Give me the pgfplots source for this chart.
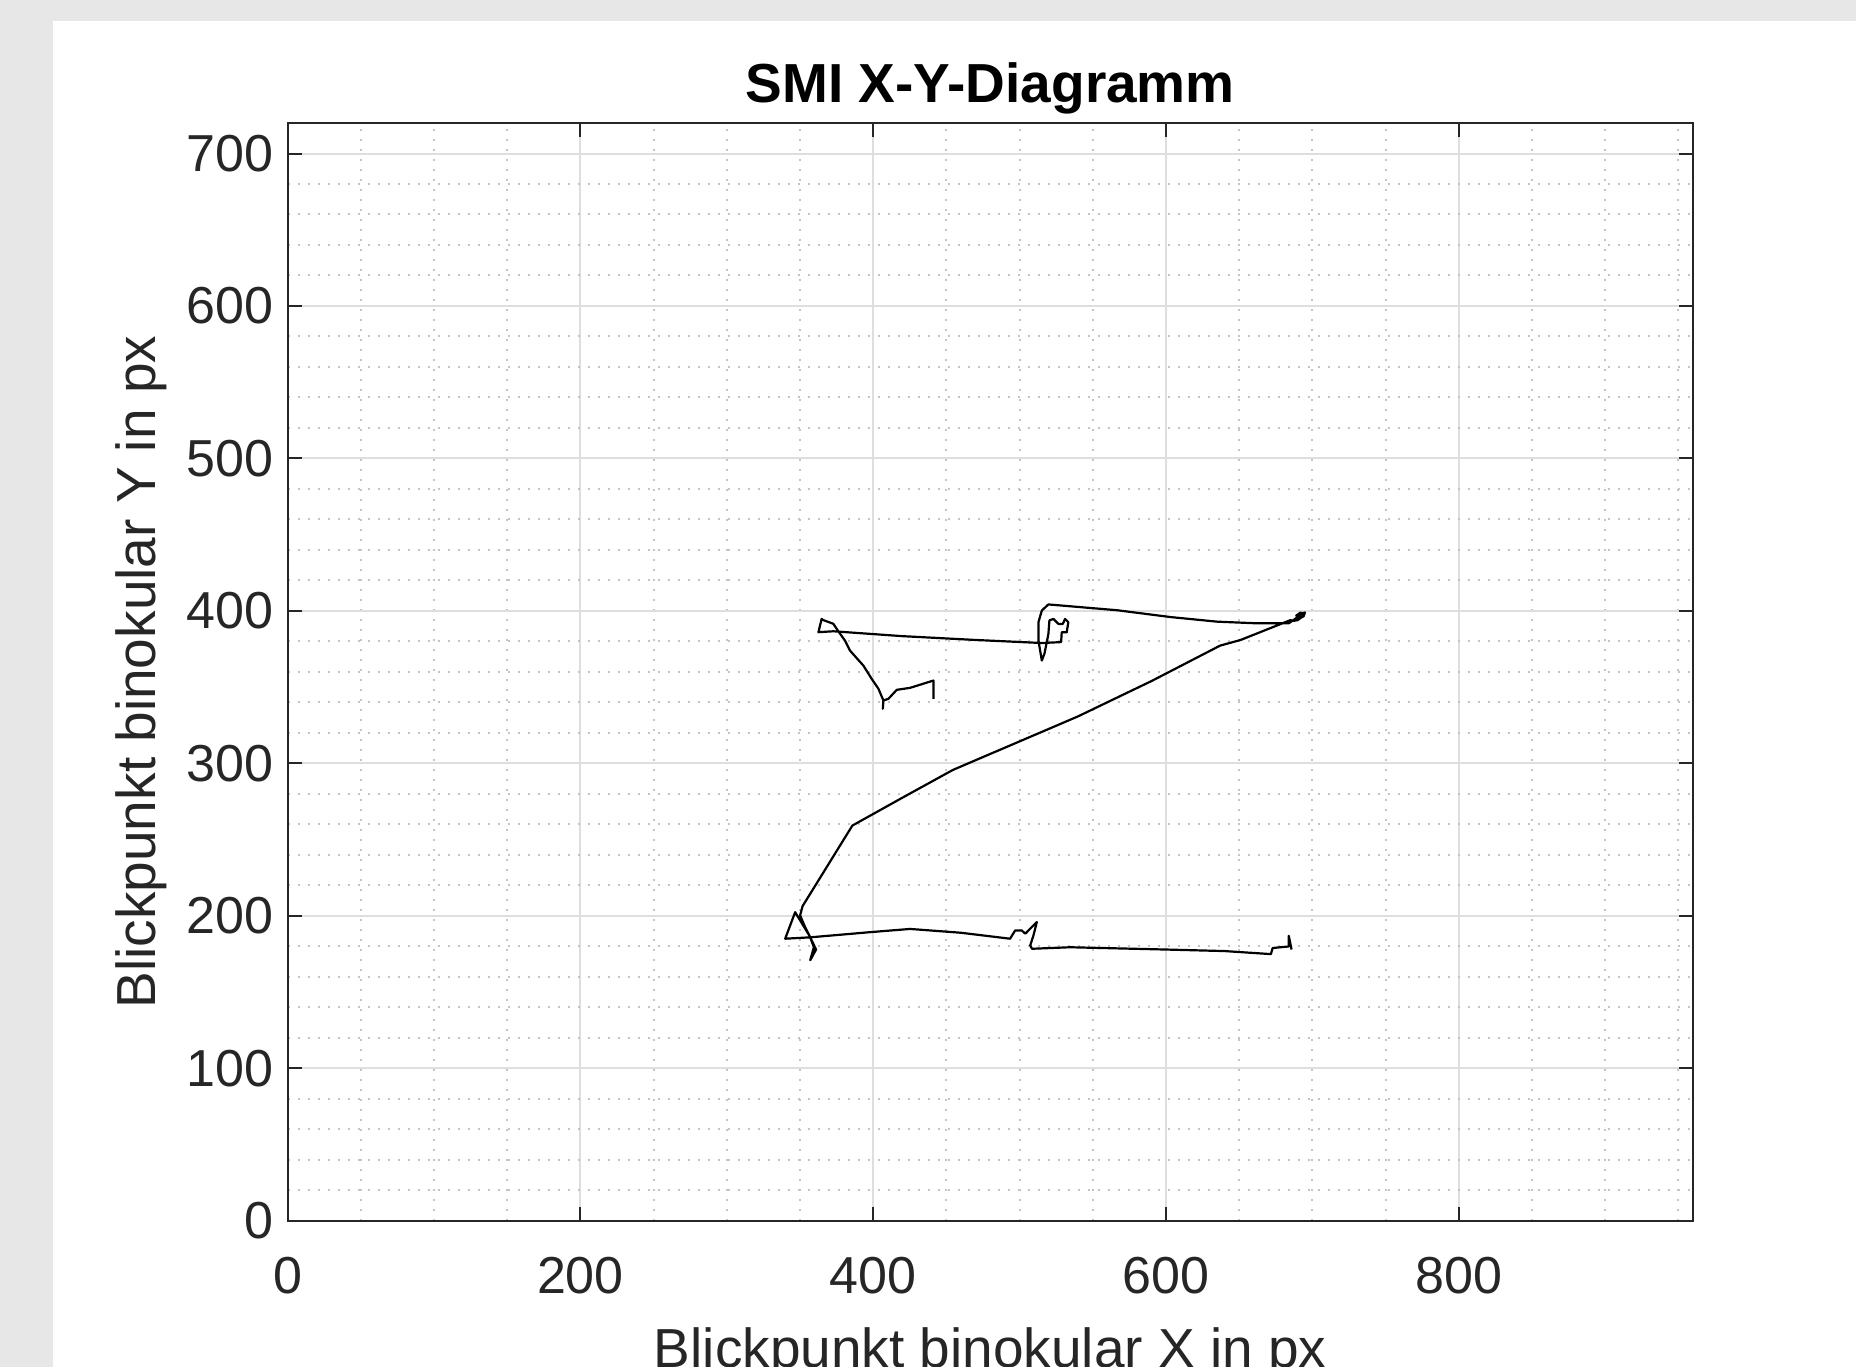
\documentclass[border=0pt]{standalone}
\usepackage{fontspec}
\setmainfont{Liberation Sans}
\usepackage{pgfplots}
\pgfplotsset{compat=1.18}
\definecolor{winGrey}{RGB}{231,231,231}
\definecolor{axInk}{RGB}{38,38,38}
\definecolor{gridMaj}{RGB}{222,222,222}
\definecolor{gridMin}{RGB}{196,196,196}

\pgfplotstableread{
x y
441.2 342.4
441.2 354.4
425.2 349.6
416.1 348.3
410.4 342.4
407.0 341.3
406.6 335.9
407.0 341.3
403.6 349.0
399.0 355.5
393.3 364.2
384.2 374.0
380.8 380.5
376.2 386.7
372.8 391.6
365.5 394.2
364.8 394.8
362.6 386.1
372.8 386.7
420.0 383.5
470.0 381.0
515.2 379.0
528.4 379.6
528.8 386.0
532.2 386.0
533.3 392.6
531.1 394.8
529.5 391.5
526.6 391.5
523.1 394.8
520.4 393.8
519.7 385.0
517.0 372.0
515.2 367.5
512.9 380.6
512.9 392.6
515.2 400.3
519.7 404.3
566.6 400.5
603.3 396.0
635.0 393.0
660.0 392.0
684.0 392.0
690.0 396.0
693.0 398.5
695.0 399.0
694.0 396.5
691.0 395.0
689.0 397.0
692.0 399.0
694.0 397.0
690.0 394.0
687.0 393.5
685.0 394.0
651.0 381.0
637.0 377.3
590.0 354.0
539.5 330.7
454.5 295.8
420.6 277.9
385.8 259.3
351.8 206.5
350.1 200.4
353.5 192.7
357.0 186.0
359.5 179.5
357.0 171.0
361.0 178.0
356.5 187.0
346.7 202.5
339.9 185.1
357.0 186.0
398.0 189.4
425.2 191.5
460.0 189.0
493.5 185.1
497.0 190.5
501.5 190.5
503.9 188.4
511.8 196.0
509.5 187.3
507.3 180.7
508.5 178.5
534.5 179.5
600.0 178.0
640.0 177.0
671.7 175.0
672.9 179.0
683.9 180.0
683.9 187.0
685.8 178.0
}\gazeXY

\begin{document}
\begin{tikzpicture}
\path[use as bounding box] (0,0) rectangle (464pt,341.75pt);
\clip (0,0) rectangle (464pt,341.75pt);
\fill[winGrey] (0,0) rectangle (464pt,341.75pt);
\fill[white] (13.2pt,0) rectangle (464pt,336.55pt);
\begin{axis}[
    at={(71.9pt,36.5pt)}, anchor=south west,
    scale only axis,
    width=351.35pt, height=274.5pt,
    xmin=0, xmax=960, ymin=0, ymax=720,
    xtick={0,200,...,800},
    ytick={0,100,...,700},
    minor xtick={50,100,150,250,300,350,450,500,550,650,700,750,850,900,950},
    minor ytick={20,40,60,80,120,140,160,180,220,240,260,280,320,340,360,380,
                 420,440,460,480,520,540,560,580,620,640,660,680},
    grid=both,
    major grid style={draw=gridMaj, line width=0.5pt},
    minor grid style={draw=gridMin, line width=0.5pt, dash pattern=on 0.5pt off 2pt},
    tick align=inside,
    tick pos=both,
    major tick length=3.6pt,
    minor tick length=0pt,
    every tick/.style={axInk, line width=0.5pt},
    axis line style={axInk, line width=0.5pt},
    /pgf/number format/assume math mode=true,
    ticklabel style={font=\fontsize{13}{15}\selectfont, text=axInk},
    xticklabel style={yshift=-5.6pt},
    every axis title shift=0pt,
    title={\textbf{SMI X-Y-Diagramm}},
    title style={at={(axis description cs:0.5,1.0191)}, anchor=base,
                 font=\fontsize{13.75}{16}\selectfont, text=black},
    xlabel={Blickpunkt binokular X in px},
    ylabel={Blickpunkt binokular Y in px},
    xlabel style={at={(axis description cs:0.5,-0.1333)}, anchor=base,
                  font=\fontsize{13.75}{16}\selectfont, text=axInk},
    ylabel style={at={(axis description cs:-0.094,0.5)}, anchor=base,
                  font=\fontsize{13.75}{16}\selectfont, text=axInk},
]
\addplot[black, line width=0.55pt, line join=round] table[x=x, y=y] {\gazeXY};
\end{axis}
\end{tikzpicture}
\end{document}
